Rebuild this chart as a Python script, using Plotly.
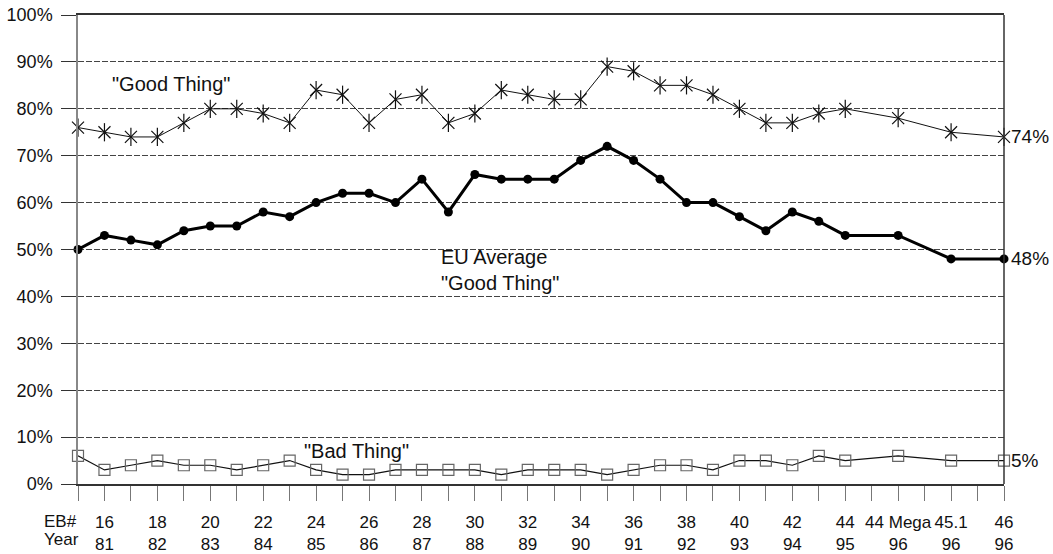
import plotly.graph_objects as go

# ---- data ----
# category slot of each survey on the x axis (slots 30, 32, 34 have no survey)
x_slot = list(range(30)) + [31, 33, 35]

good_thing = [76, 75, 74, 74, 77, 80, 80, 79, 77, 84, 83, 77, 82, 83, 77, 79, 84, 83, 82,
              82, 89, 88, 85, 85, 83, 80, 77, 77, 79, 80, 78, 75, 74]
eu_average = [50, 53, 52, 51, 54, 55, 55, 58, 57, 60, 62, 62, 60, 65, 58, 66, 65, 65, 65,
              69, 72, 69, 65, 60, 60, 57, 54, 58, 56, 53, 53, 48, 48]
bad_thing = [6, 3, 4, 5, 4, 4, 3, 4, 5, 3, 2, 2, 3, 3, 3, 3, 2, 3, 3,
             3, 2, 3, 4, 4, 3, 5, 5, 4, 6, 5, 6, 5, 5]

tick_eb = ["16", "18", "20", "22", "24", "26", "28", "30", "32", "34", "36", "38",
           "40", "42", "44", "44 Mega", "45.1", "46"]
tick_year = ["81", "82", "83", "84", "85", "86", "87", "88", "89", "90", "91", "92",
             "93", "94", "95", "96", "96", "96"]
y_ticks = [0, 10, 20, 30, 40, 50, 60, 70, 80, 90, 100]

FONT = "Liberation Sans, Arial, sans-serif"
INK = "#111111"

# tick labels on odd slots
n_slots = 36
tickvals = list(range(n_slots))
ticktext = [""] * n_slots
for i, (e, yv) in enumerate(zip(tick_eb, tick_year)):
    ticktext[2 * i + 1] = f"{e}<br>{yv}"

fig = go.Figure()

# Good Thing: thin line with star markers (x + vertical bar)
fig.add_trace(go.Scatter(
    x=x_slot, y=good_thing, mode="lines+markers",
    line=dict(color=INK, width=1),
    marker=dict(symbol="x-thin-open", size=12, color=INK, line=dict(color=INK, width=1.2)),
    cliponaxis=False, showlegend=False))
fig.add_trace(go.Scatter(
    x=x_slot, y=good_thing, mode="markers",
    marker=dict(symbol="line-ns-open", size=13, color=INK, line=dict(color=INK, width=1.2)),
    cliponaxis=False, showlegend=False, hoverinfo="skip"))

# EU Average: thick line with filled circles
fig.add_trace(go.Scatter(
    x=x_slot, y=eu_average, mode="lines+markers",
    line=dict(color="#000000", width=3),
    marker=dict(symbol="circle", size=9, color="#000000"),
    cliponaxis=False, showlegend=False))

# Bad Thing: thin line with open squares
fig.add_trace(go.Scatter(
    x=x_slot, y=bad_thing, mode="lines+markers",
    line=dict(color=INK, width=1.2),
    marker=dict(symbol="square-open", size=11, color="#666666",
                line=dict(color="#666666", width=1.2)),
    cliponaxis=False, showlegend=False))

# end labels
for series in (good_thing, eu_average, bad_thing):
    fig.add_annotation(x=x_slot[-1], y=series[-1], xref="x", yref="y",
                       text=f"{series[-1]}%", showarrow=False, xanchor="left",
                       xshift=5, font=dict(family=FONT, size=19, color=INK))

# series captions
fig.add_annotation(x=3.5, y=85.2, text='"Good Thing"', showarrow=False,
                   font=dict(family=FONT, size=20, color=INK))
fig.add_annotation(x=13.65, y=45.7, text='EU Average<br>"Good Thing"', showarrow=False,
                   xanchor="left", align="left",
                   font=dict(family=FONT, size=20, color=INK))
fig.add_annotation(x=10.54, y=7.0, text='"Bad Thing"', showarrow=False,
                   font=dict(family=FONT, size=20, color=INK))

# row captions for the x axis
fig.add_annotation(xref="paper", yref="paper", x=-0.0389, y=-0.0789,
                   text="EB#", showarrow=False, xanchor="left", yanchor="middle",
                   font=dict(family=FONT, size=17, color=INK))
fig.add_annotation(xref="paper", yref="paper", x=-0.0389, y=-0.1194,
                   text="Year", showarrow=False, xanchor="left", yanchor="middle",
                   font=dict(family=FONT, size=17, color=INK))

# right border
fig.add_shape(type="line", xref="paper", yref="paper", x0=1, x1=1, y0=0, y1=1,
              line=dict(color="#333333", width=1.5))

fig.update_layout(
    width=1053, height=554,
    margin=dict(l=78, r=49, t=15, b=70, autoexpand=False),
    plot_bgcolor="white", paper_bgcolor="white",
    font=dict(family=FONT, color=INK),
    xaxis=dict(
        range=[0, 35], tickmode="array", tickvals=tickvals, ticktext=ticktext,
        ticks="outside", ticklen=15, tickcolor="#777777", tickwidth=1,
        showline=True, linecolor="#333333", linewidth=1.5, mirror=True,
        showgrid=False, zeroline=False, automargin=False, ticklabelstandoff=7,
        tickfont=dict(family=FONT, size=17, color=INK),
    ),
    yaxis=dict(
        range=[0, 100], tickmode="array", tickvals=y_ticks,
        ticktext=[f"{v}%" for v in y_ticks],
        ticks="outside", ticklen=15, tickcolor="#333333", tickwidth=1,
        showline=True, linecolor="#888888", linewidth=1.5,
        showgrid=True, gridcolor="#444444", gridwidth=1, griddash="6px,2px",
        zeroline=False, automargin=False, ticklabelstandoff=5,
        tickfont=dict(family=FONT, size=18, color=INK),
    ),
)

# remove the default page margin so the figure fills the window exactly
fig.write_html("out.html", config={"displayModeBar": False},
               post_script="document.body.style.margin='0px';")
